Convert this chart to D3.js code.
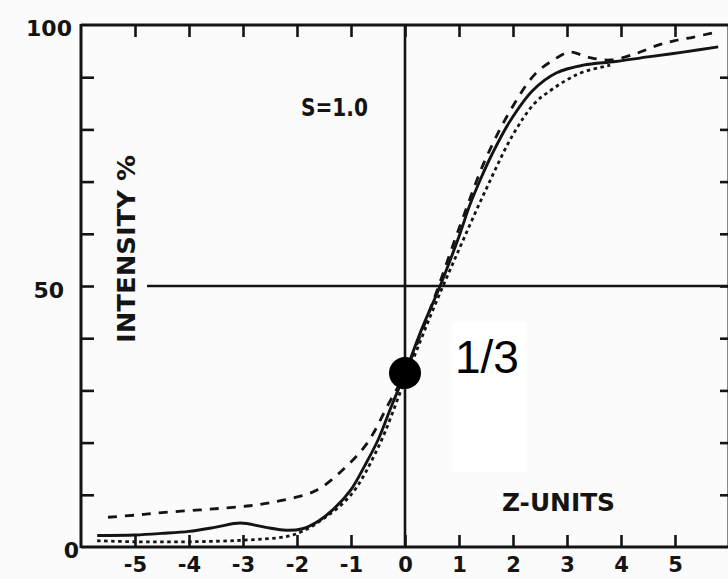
<!DOCTYPE html>
<html>
<head>
<meta charset="utf-8">
<script src="https://cdn.jsdelivr.net/npm/d3@7"></script>
<style>
  html, body { margin: 0; padding: 0; background: #fbfbfb; }
  svg { display: block; }
</style>
</head>
<body>
<svg id="chart" width="728" height="579"></svg>
<script>
// Z-unit ticks along the bottom and top edges
const zTicks = [-5, -4, -3, -2, -1, 0, 1, 2, 3, 4, 5];
// Intensity (%) ticks along the left and right edges
const intensityTicks = [10, 20, 30, 40, 50, 60, 70, 80, 90];
const intensityLabels = [0, 50, 100];

// Measured intensity profiles, [z, intensity %]
const solidCurve = [
  [-5.7, 2.2], [-5.0, 2.3], [-4.5, 2.6], [-4.0, 3.0], [-3.5, 3.8], [-3.05, 4.6],
  [-2.6, 3.8], [-2.2, 3.2], [-1.9, 3.5], [-1.6, 5.0], [-1.3, 7.5], [-1.0, 11.0],
  [-0.75, 15.5], [-0.5, 20.5], [-0.25, 27.0], [0, 33.3], [0.3, 41.5], [0.65, 50.0],
  [1.0, 59.5], [1.2, 65.5], [1.4, 70.5], [1.6, 75.0], [1.94, 81.5], [2.37, 87.5],
  [2.8, 90.8], [3.3, 92.3], [3.9, 93.0], [4.5, 93.9], [5.15, 94.8], [5.8, 95.8]
];
const dashedCurve = [
  [-5.5, 5.7], [-5.0, 6.1], [-4.5, 6.6], [-3.8, 7.1], [-3.3, 7.5], [-2.87, 7.9],
  [-2.5, 8.5], [-2.07, 9.4], [-1.63, 10.9], [-1.15, 14.8], [-0.7, 19.9], [-0.3, 27.5],
  [0, 33.3], [0.5, 46.5], [1.0, 61.0], [1.5, 74.5], [2.0, 84.5], [2.4, 90.5],
  [2.75, 93.3], [3.05, 94.8], [3.4, 93.8], [3.8, 93.3], [4.3, 94.6], [4.7, 96.2],
  [5.0, 97.0], [5.35, 97.7], [5.7, 98.5]
];
const dottedCurve = [
  [-5.7, 1.2], [-5.0, 1.0], [-4.0, 1.0], [-3.0, 1.3], [-2.2, 2.0], [-1.9, 3.0],
  [-1.5, 5.5], [-1.0, 10.0], [-0.5, 19.0], [0, 32.0], [0.5, 45.0], [1.0, 57.0],
  [1.5, 68.5], [2.0, 79.0], [2.4, 85.0], [2.7, 87.5], [3.0, 89.5], [3.3, 91.0],
  [3.8, 92.3]
];

// Marked crossing point: one third of full intensity at z = 0
const markerPoint = [0, 100 / 3];
const markerText = "1/3";

const svg = d3.select("#chart");

const x = d3.scaleLinear().domain([-6, 6]).range([81, 729]);
const y = d3.scaleLinear().domain([0, 100]).range([547, 25]);

const ink = "#141414";
const labelFont = "'DejaVu Sans', sans-serif";

// Frame
const frame = svg.append("g").attr("stroke", ink).attr("stroke-width", 3).attr("fill", "none");
frame.append("line").attr("x1", x(-6)).attr("x2", x(-6)).attr("y1", y(100) - 1).attr("y2", y(0) + 1);
frame.append("line").attr("x1", x(-6)).attr("x2", x(6)).attr("y1", y(100)).attr("y2", y(100));
frame.append("line").attr("x1", x(-6)).attr("x2", x(6)).attr("y1", y(0)).attr("y2", y(0));
frame.append("line").attr("x1", x(6)).attr("x2", x(6)).attr("y1", y(100)).attr("y2", y(0));

function styleAxis(g) {
  g.select(".domain").remove();
  g.selectAll(".tick line").attr("stroke", ink).attr("stroke-width", 2.6);
}

// Bottom axis: inward ticks with numeric labels
svg.append("g")
  .attr("transform", `translate(0,${y(0)})`)
  .call(d3.axisBottom(x).tickValues(zTicks).tickSize(-12).tickPadding(10)
    .tickFormat(d => (d < 0 ? "-" : "") + Math.abs(d)))
  .call(styleAxis)
  .call(g => g.selectAll(".tick text")
    .attr("fill", ink).attr("font-family", labelFont).attr("font-weight", "bold")
    .attr("font-size", 21));

// Top axis: inward ticks only
svg.append("g")
  .attr("transform", `translate(0,${y(100)})`)
  .call(d3.axisTop(x).tickValues(zTicks).tickSize(-12).tickFormat(""))
  .call(styleAxis);

// Left axis: inward ticks only
svg.append("g")
  .attr("transform", `translate(${x(-6)},0)`)
  .call(d3.axisLeft(y).tickValues(intensityTicks).tickSize(-13).tickFormat(""))
  .call(styleAxis);

// Right axis: inward ticks only
svg.append("g")
  .attr("transform", `translate(${x(6)},0)`)
  .call(d3.axisRight(y).tickValues(intensityTicks).tickSize(-9).tickFormat(""))
  .call(styleAxis);

// Left-hand value labels
const labelRight = { 0: 79, 50: 64, 100: 72 };
const labelDy = { 0: 3, 50: 4, 100: 3 };
svg.append("g").selectAll("text").data(intensityLabels).join("text")
  .attr("x", d => labelRight[d])
  .attr("y", d => y(d) + labelDy[d])
  .attr("dy", "0.36em")
  .attr("text-anchor", "end")
  .attr("fill", ink)
  .attr("font-family", labelFont)
  .attr("font-weight", "bold")
  .attr("font-size", 22)
  .text(d => d);

// Reference lines: z = 0 and 50 % intensity
svg.append("line")
  .attr("x1", x(0)).attr("x2", x(0)).attr("y1", y(100)).attr("y2", y(0))
  .attr("stroke", ink).attr("stroke-width", 2.6);
svg.append("line")
  .attr("x1", 147).attr("x2", x(6)).attr("y1", y(50)).attr("y2", y(50))
  .attr("stroke", ink).attr("stroke-width", 2.6);

// Profiles
const line = d3.line().x(d => x(d[0])).y(d => y(d[1])).curve(d3.curveCatmullRom.alpha(0.5));
const curves = svg.append("g").attr("fill", "none").attr("stroke", ink).attr("stroke-linecap", "butt");
curves.append("path").attr("d", line(dottedCurve))
  .attr("stroke-width", 2.8).attr("stroke-dasharray", "3.5,3.5");
curves.append("path").attr("d", line(dashedCurve))
  .attr("stroke-width", 2.8).attr("stroke-dasharray", "9,8");
curves.append("path").attr("d", line(solidCurve))
  .attr("stroke-width", 2.9);

// Text annotations
svg.append("text")
  .attr("x", 301).attr("y", 116)
  .attr("fill", ink).attr("font-family", labelFont).attr("font-weight", "bold")
  .attr("font-size", 24).attr("textLength", 67).attr("lengthAdjust", "spacingAndGlyphs")
  .text("S=1.0");
svg.append("text")
  .attr("x", 502).attr("y", 511)
  .attr("fill", ink).attr("font-family", labelFont).attr("font-weight", "bold")
  .attr("font-size", 24).attr("textLength", 113).attr("lengthAdjust", "spacingAndGlyphs")
  .text("Z-UNITS");
svg.append("text")
  .attr("transform", "translate(135,343) rotate(-90)")
  .attr("fill", ink).attr("font-family", labelFont).attr("font-weight", "bold")
  .attr("font-size", 25).attr("textLength", 188).attr("lengthAdjust", "spacingAndGlyphs")
  .text("INTENSITY %");

// Marker and its label
svg.append("rect")
  .attr("x", 452).attr("y", 322).attr("width", 75).attr("height", 150)
  .attr("fill", "#ffffff");
svg.append("circle")
  .attr("cx", x(markerPoint[0])).attr("cy", y(markerPoint[1]))
  .attr("r", 16).attr("fill", "#000");
svg.append("text")
  .attr("x", 455).attr("y", 373)
  .attr("fill", "#000").attr("font-family", "'Liberation Sans', Arial, sans-serif")
  .attr("font-size", 46)
  .text(markerText);
</script>
</body>
</html>
